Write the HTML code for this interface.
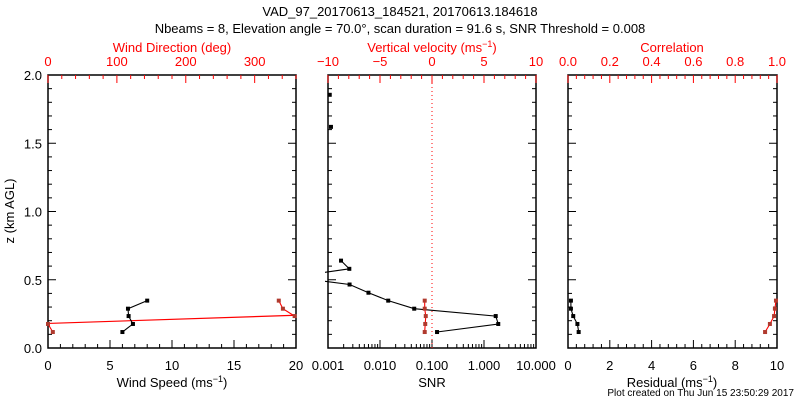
<!DOCTYPE html>
<html><head><meta charset="utf-8"><style>
html,body{margin:0;padding:0;background:#fff;width:800px;height:400px;overflow:hidden}
svg{font-family:"Liberation Sans",sans-serif;font-size:13px}
</style></head><body>
<svg id="c" width="800" height="400">
<text x="400" y="16" text-anchor="middle">VAD_97_20170613_184521, 20170613.184618</text>
<text x="400" y="33" text-anchor="middle">Nbeams = 8, Elevation angle = 70.0°, scan duration = 91.6 s, SNR Threshold = 0.008</text>
<text x="14" y="211" text-anchor="middle" transform="rotate(-90 14 211)">z (km AGL)</text>
<text x="794" y="396" text-anchor="end" font-size="10">Plot created on Thu Jun 15 23:50:29 2017</text>
</svg>
<script>
const heights=[0.117,0.176,0.234,0.288,0.347];
const windSpeed=[6.0,6.85,6.5,6.45,8.0];
const windDir=[7,0,358,341,335];
const fitDirEnds=[0,360];
const fitHeightEnds=[0.18,0.24];
const snrHeights=[0.117,0.176,0.234,0.288,0.347,0.405,0.465,0.52,0.58,0.64,1.62,1.855];
const snrValues=[0.125,1.88,1.68,0.0455,0.0144,0.006,0.0026,0.0002,0.00257,0.00178,0.00114,0.00108];
const wVel=[-0.7,-0.65,-0.6,-0.7,-0.7];
const residual=[0.51,0.45,0.25,0.14,0.14];
const correlation=[0.943,0.966,0.986,0.99,0.995];
const speedTicks=[0,5,10,15,20];
const dirTicks=[0,100,200,300];
const velTicks=[-10,-5,0,5,10];
const snrTicks=["0.001","0.010","0.100","1.000","10.000"];
const corrTicks=["0.0","0.2","0.4","0.6","0.8","1.0"];
const resTicks=[0,2,4,6,8,10];
const zTicks=["0.0","0.5","1.0","1.5","2.0"];

const svg=document.getElementById('c');
const NS='http://www.w3.org/2000/svg';
const T=75,B=348;
const Y=h=>B-(h/2)*(B-T);
function el(tag,attrs,text){const e=document.createElementNS(NS,tag);for(const k in attrs)e.setAttribute(k,attrs[k]);if(text!=null)e.textContent=text;svg.appendChild(e);return e;}
function lin(a,b,x0,x1){return v=>x0+(v-a)/(b-a)*(x1-x0);}
const P1=[48,296],P2=[328,536],P3=[568,777];
const xSpeed=lin(0,20,...P1),xDir=lin(0,360,...P1);
const xSnr=v=>P2[0]+(Math.log10(v)+3)/4*(P2[1]-P2[0]);
const xVel=lin(-10,10,...P2);
const xRes=lin(0,10,...P3),xCorr=lin(0,1,...P3);

const defs=document.createElementNS(NS,'defs');svg.appendChild(defs);
[P1,P2,P3].forEach((p,i)=>{const cp=document.createElementNS(NS,'clipPath');cp.setAttribute('id','cp'+i);const r=document.createElementNS(NS,'rect');r.setAttribute('x',p[0]-3);r.setAttribute('y',T);r.setAttribute('width',p[1]-p[0]+6);r.setAttribute('height',B-T);cp.appendChild(r);defs.appendChild(cp);});

function frame(p,name){
  const r=el('rect',{x:p[0],y:T,width:p[1]-p[0],height:B-T,fill:'none',stroke:'#000','stroke-width':1.5});
  
  
  for(let i=0;i<=20;i++){const y=Y(i*0.1);const len=i%5==0?8:4;
    el('line',{x1:p[0],x2:p[0]+len,y1:y,y2:y,stroke:'#000'});
    el('line',{x1:p[1],x2:p[1]-len,y1:y,y2:y,stroke:'#000'});}
}
function xtick(x,len,top,color){
  if(top) el('line',{x1:x,x2:x,y1:T,y2:T+len,stroke:color||'#000'});
  else el('line',{x1:x,x2:x,y1:B,y2:B-len,stroke:'#000'});
}
function label(x,y,t,color,name,anchor){const e=el('text',{x:x,y:y,'text-anchor':anchor||'middle',fill:color||'#000'},t);
  
  return e;}

frame(P1,'wind-panel');frame(P2,'snr-panel');frame(P3,'residual-panel');

zTicks.forEach(t=>{label(42,Y(+t)+5,t,'#000','z-tick-label','end');});

const BL=370, BT=387;
for(let v=0;v<=20;v++) xtick(xSpeed(v),v%5==0?8:4,false);
speedTicks.forEach(v=>label(xSpeed(v),BL,String(v),'#000','speed-tick-label'));
for(let v=0;v<=360;v+=20) xtick(xDir(v),v%100==0?8:4,true,'#f00');
dirTicks.forEach(v=>label(xDir(v),66,String(v),'#f00','direction-tick-label'));
label(172,BT,'','#000','x-axis-title-wind-speed').innerHTML='Wind Speed (ms<tspan dy="-5" font-size="9">−1</tspan><tspan dy="5">)</tspan>';
label(172,52,'Wind Direction (deg)','#f00','top-axis-title-wind-direction');

for(let d=-3;d<1;d++)for(let m=1;m<10;m++){xtick(xSnr(m*Math.pow(10,d)),m==1?8:4,false);}
xtick(P2[1],8,false);
snrTicks.forEach(t=>label(xSnr(+t),BL,t,'#000','snr-tick-label'));
for(let v=-10;v<=10;v++) xtick(xVel(v),v%5==0?8:4,true,'#f00');
velTicks.forEach(v=>label(xVel(v),66,v<0?'−'+(-v):String(v),'#f00','velocity-tick-label'));
label(432,BT,'SNR','#000','x-axis-title-snr');
label(432,52,'','#f00','top-axis-title-vertical-velocity').innerHTML='Vertical velocity (ms<tspan dy="-5" font-size="9">−1</tspan><tspan dy="5">)</tspan>';
el('line',{x1:xVel(0),x2:xVel(0),y1:T,y2:B,stroke:'#f00','stroke-dasharray':'1,3'});

for(let i=0;i<=25;i++) xtick(xRes(i*0.4),i%5==0?8:4,false);
resTicks.forEach(v=>label(xRes(v),BL,String(v),'#000','residual-tick-label'));
for(let i=0;i<=25;i++) xtick(xCorr(i*0.04),i%5==0?8:4,true,'#f00');
corrTicks.forEach(t=>label(xCorr(+t),66,t,'#f00','correlation-tick-label'));
label(672,BT,'','#000','x-axis-title-residual').innerHTML='Residual (ms<tspan dy="-5" font-size="9">−1</tspan><tspan dy="5">)</tspan>';
label(672,52,'Correlation','#f00','top-axis-title-correlation');

function series(xs,hs,fx,color,mcolor,name,clip,segs){
  const g=document.createElementNS(NS,'g');svg.appendChild(g);
  g.setAttribute('clip-path','url(#cp'+clip+')');
  
  
  const groups=segs||[xs.map((_,i)=>i)];
  groups.forEach(idx=>{
    const pts=idx.map(i=>fx(xs[i]).toFixed(1)+','+Y(hs[i]).toFixed(1)).join(' ');
    const pl=document.createElementNS(NS,'polyline');
    pl.setAttribute('points',pts);pl.setAttribute('fill','none');pl.setAttribute('stroke',color);pl.setAttribute('stroke-width',1.1);
    g.appendChild(pl);
  });
  xs.forEach((v,i)=>{const r=document.createElementNS(NS,'rect');
    r.setAttribute('x',fx(v)-2);r.setAttribute('y',Y(hs[i])-2);r.setAttribute('width',4);r.setAttribute('height',4);r.setAttribute('fill',mcolor);
    
    
    g.appendChild(r);});
}
const fit=el('line',{x1:xDir(fitDirEnds[0]),y1:Y(fitHeightEnds[0]),x2:xDir(fitDirEnds[1]),y2:Y(fitHeightEnds[1]),stroke:'#f00','stroke-width':1.2});


series(windSpeed,heights,xSpeed,'#000','#000','wind-speed-series',0);
series(windDir,heights,xDir,'#f00','#b03a2e','wind-direction-series',0,[[0,1],[2,3,4]]);
series(snrValues,snrHeights,xSnr,'#000','#000','snr-series',1,[[0,1,2,3,4,5,6,7,8,9]]);
series(wVel,heights,xVel,'#f00','#b03a2e','vertical-velocity-series',1);
series(residual,heights,xRes,'#000','#000','residual-series',2);
series(correlation,heights,xCorr,'#f00','#b03a2e','correlation-series',2);
</script>
</body></html>
